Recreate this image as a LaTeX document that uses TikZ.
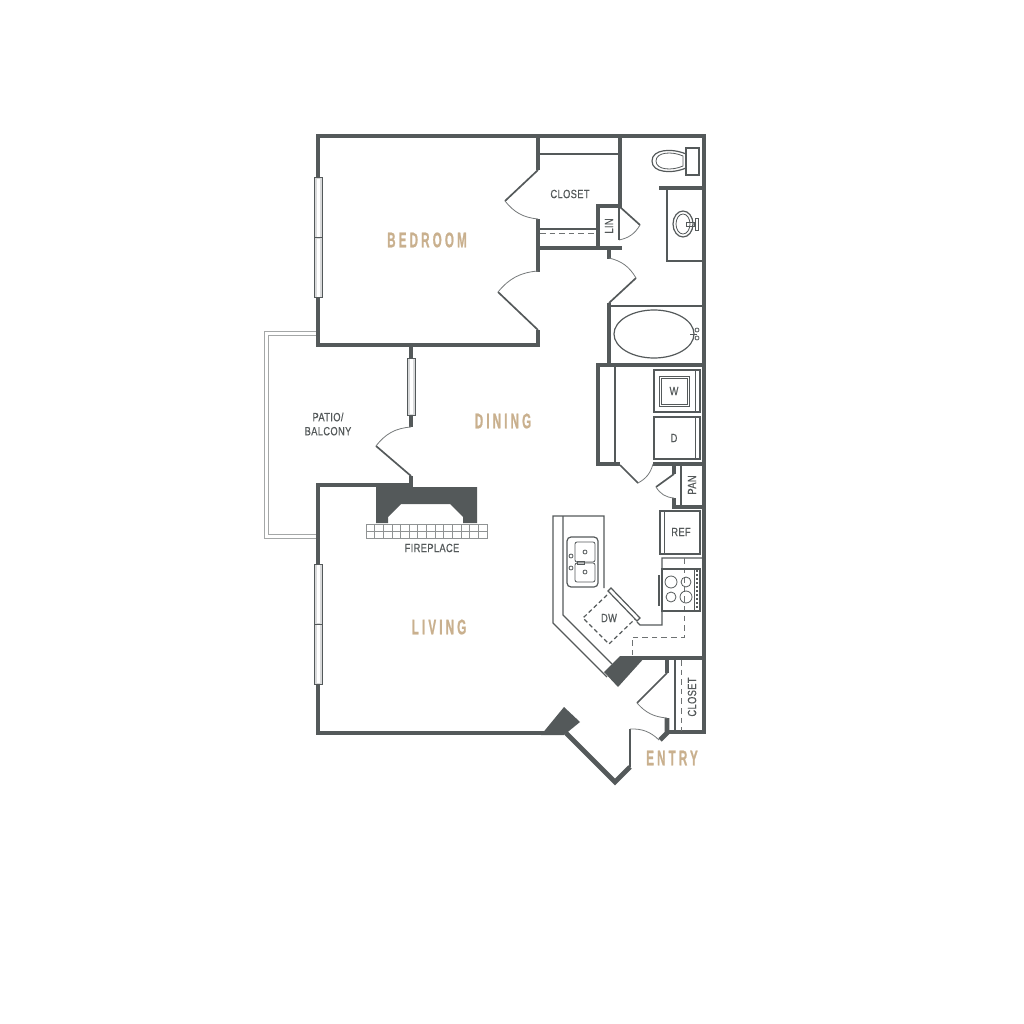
\documentclass[tikz,border=0pt]{standalone}
\usepackage{fontspec}
\setmainfont{Liberation Sans}
\newfontfamily\roomfont[FakeStretch=0.55,LetterSpace=15,FakeBold=0.8]{Liberation Sans Bold}
\newfontfamily\smallfont[FakeStretch=0.78,LetterSpace=3,FakeBold=0.5]{Liberation Sans}
\definecolor{wallc}{HTML}{54595A}
\definecolor{tanc}{HTML}{C9B08E}
\definecolor{patioc}{HTML}{A4A7A7}

\begin{document}
\begin{tikzpicture}[x=0.25mm,y=-0.25mm,wall/.style={draw=wallc, line width=1.2mm},door/.style={draw=wallc, line width=0.42mm},swing/.style={draw=wallc!80, line width=0.2mm},fixture/.style={draw=wallc, line width=0.3mm},finefix/.style={draw=wallc, line width=0.2mm},hidden/.style={draw=wallc!85, line width=0.25mm, dash pattern=on 1.4mm off 1mm},solidc/.style={fill=wallc, draw=none},windowc/.style={fill=wallc!22, draw=wallc, line width=0.25mm},room/.style={text=tanc, font=\roomfont\fontsize{15}{15}\selectfont, inner sep=0pt},tag/.style={text=wallc, font=\smallfont\fontsize{8.5}{10}\selectfont, inner sep=0pt, align=center}]
	\useasboundingbox (0,0) rectangle (1024,1024);

	% patio
	\draw [patioc, line width=0.25mm] (316,331) -- (264,331) -- (264,538) -- (316,538);
	\draw [patioc, line width=0.25mm] (316,335) -- (268,335) -- (268,534) -- (316,534);

	% walls
	\draw [wall] (538,170) -- (538,136);
	\draw [wall] (318,345) -- (318,136) -- (704,136) -- (704,732) -- (665,732);
	\draw [wall] (316,345) -- (538,345) -- (538,330);
	\draw [wall] (538,272) -- (538,219);
	\draw [wall] (620,136) -- (620,206) -- (598,206) -- (598,248);
	\draw [wall] (538,248) -- (622,248);
	\draw [wall] (609,248) -- (609,259);
	\draw [wall] (609,303) -- (609,367);
	\draw [wall] (596,365) -- (704,365);
	\draw [wall] (620,464) -- (598,464) -- (598,365);
	\draw [wall] (653,464) -- (704,464);
	\draw [wall] (674,464) -- (674,474);
	\draw [wall] (674,498) -- (674,507) -- (704,507);
	\draw [wall] (659,188) -- (704,188);
	\draw [wall] (411,347) -- (411,427);
	\draw [wall] (411,476) -- (411,487);
	\draw [wall] (411,485) -- (318,485) -- (318,733) -- (545,733);
	\draw [wall] (640,658) -- (704,658);
	\draw [wall] (667,658) -- (667,673);
	\draw [wall] (667,718) -- (667,733) -- (660,740);
	\draw [wall] (566,733) -- (615,782) -- (630,767);
	\path [solidc] (620,656) -- (646,656) -- (618,687) -- (604,672) -- cycle;
	\path [solidc] (541,735) -- (564,707) -- (580,722) -- (564,735) -- cycle;

	% windows
	\foreach \wy in {178,238,564,624} {
		\draw [windowc] (314,\wy) rectangle (322,\wy+60);
		\fill [white] (316.5,\wy+1) rectangle (319.5,\wy+59);
	}
	\draw [windowc] (407,358) rectangle (415,415);
	\fill [white] (409.5,359) rectangle (412.5,414);

	% doors
	\draw [door] (538,170) -- (505,201);
	\draw [swing] (505,201) to[bend right=23] (538,219);
	\draw [door] (538,330) -- (498,292);
	\draw [swing] (498,292) to[bend left=23] (538,271);
	\draw [door] (620,207) -- (640,225);
	\draw [swing] (640,225) to[bend left=24] (619,240);
	\draw [door] (609,303) -- (636,278);
	\draw [swing] (636,278) to[bend right=23] (609,258);
	\draw [door] (620,465) -- (638,483);
	\draw [swing] (638,483) to[bend right=23] (653,464);
	\draw [door] (674,474) -- (656,487);
	\draw [swing] (656,487) to[bend right=27] (674,498);
	\draw [door] (411,476) -- (376,446);
	\draw [swing] (376,446) to[bend left=24] (411,427);
	\draw [door] (667,673) -- (637,703);
	\draw [swing] (637,703) to[bend right=22] (667,718);
	\draw [door] (630,767) -- (630,729);
	\draw [swing] (630,729) to[bend left=23] (659,740);

	% closet
	\draw [fixture] (540,154) -- (620,154);
	\draw [door] (540,229) -- (597,229);
	\draw [hidden] (540,234) -- (597,234);
	\draw [fixture] (619,206) -- (619,240);

	% bath
	\draw [fixture] (686,148) rectangle (699,175);
	\draw [fixture] (686,154) .. controls (672,148) and (652,149) .. (652,161) .. controls (652,173) and (672,174) .. (686,168);
	\draw [finefix] (683,156) .. controls (672,151) and (656,152) .. (656,161) .. controls (656,170) and (672,171) .. (683,166) -- cycle;
	\draw [fixture] (667,188) -- (667,261) -- (703,261);
	\draw [fixture] (683,224) ellipse (10 and 13);
	\draw [finefix] (683,224) ellipse (7 and 10);
	\draw [finefix] (686,222) rectangle (694,226);
	\draw [finefix] (695,218) rectangle (698,230);
	\draw [fixture] (609,306) -- (703,306);
	\draw [fixture] (654,334) ellipse (40 and 24);
	\draw [finefix] (690,334) -- (697,334);
	\draw [finefix] (697,330) circle (2);
	\draw [finefix] (697,338) circle (2);

	% laundry
	\draw [fixture] (615,365) -- (615,464);
	\draw [fixture] (654,370) rectangle (700,412);
	\draw [finefix] (695,370) -- (695,412);
	\draw [finefix] (659,376) rectangle (689,406);
	\draw [finefix] (661,378) rectangle (687,404);
	\draw [fixture] (654,417) rectangle (700,459);
	\draw [finefix] (695,417) -- (695,459);
	\draw [fixture] (681,466) -- (681,505);

	% kitchen
	\draw [fixture] (604,588) -- (604,516) -- (553,516) -- (553,623) -- (607,677);
	\draw [fixture] (563,516) -- (563,615) -- (612,664);
	\draw [fixture] (637,622) -- (640,625) -- (662,625) -- (662,558) -- (702,558);
	\draw [fixture] (608,591) -- (611,588) -- (640,618) -- (637,621) -- cycle;
	\draw [fixture, densely dashed] (607,595) -- (583,618) -- (609,644) -- (635,619);
	\draw [fixture, rounded corners=1mm] (567,537) rectangle (598,587);
	\draw [finefix, rounded corners=0.5mm] (575,542) rectangle (595,562);
	\draw [finefix, rounded corners=0.5mm] (575,563) rectangle (595,582);
	\draw [finefix] (585,552) circle (2);
	\draw [finefix] (585,572) circle (2);
	\draw [finefix] (577,561) rectangle (584,564);
	\draw [finefix] (571,556) circle (2);
	\draw [finefix] (571,568) circle (2);
	\draw [fixture] (660,511) rectangle (700,554);
	\draw [finefix] (664,511) -- (664,554);
	\draw [hidden] (684,558) -- (684,637) -- (632,637) -- (632,655);
	\draw [fixture] (662,569) rectangle (700,611);
	\draw [door] (659,575) -- (659,606);
	\draw [finefix] (671,582) circle (6);
	\draw [finefix] (686,582) circle (5);
	\draw [finefix] (671,597) circle (5);
	\draw [finefix] (686,597) circle (6);
	\draw [finefix] (694,569) -- (694,611);
	\draw [door, dash pattern=on 0.4mm off 0.6mm] (697,570) -- (697,610);

	% entry closet
	\draw [fixture] (675,660) -- (675,731);
	\draw [hidden] (681,660) -- (681,731);

	% fireplace
	\path [solidc] (376,483) -- (411,483) -- (411,487) -- (477,487) -- (477,523) -- (463,523) -- (463,517) -- (450,504) -- (401,504) -- (388,517) -- (388,523) -- (376,523) -- cycle;
	\draw [finefix, draw=wallc!65] (366,524) rectangle (487,538);
	\draw [finefix, draw=wallc!65] (366,531) -- (487,531);
	\foreach \hx in {1,...,13} {
		\draw [finefix, draw=wallc!65] (366+\hx*8.64,524) -- (366+\hx*8.64,538);
	}

	% labels
	\node[room] (bedroom) at (427,240) {BEDROOM};
	\node[room] (dining) at (503,421) {DINING};
	\node[room] (living) at (439,627) {LIVING};
	\node[room] (entry) at (672,758) {ENTRY};
	\node[tag] (closeta) at (570,194) {CLOSET};
	\node[tag, rotate=90] (lin) at (609,226) {LIN};
	\node[tag] (patio) at (328,424) {PATIO/\\BALCONY};
	\node[tag] (fireplace) at (432,548) {FIREPLACE};
	\node[tag] (washer) at (674,391) {W};
	\node[tag] (dryer) at (674,438) {D};
	\node[tag, rotate=90] (pan) at (692,485) {PAN};
	\node[tag] (ref) at (681,532) {REF};
	\node[tag] (dw) at (609,618) {DW};
	\node[tag, rotate=90] (closetb) at (692,697) {CLOSET};
\end{tikzpicture}
\end{document}
